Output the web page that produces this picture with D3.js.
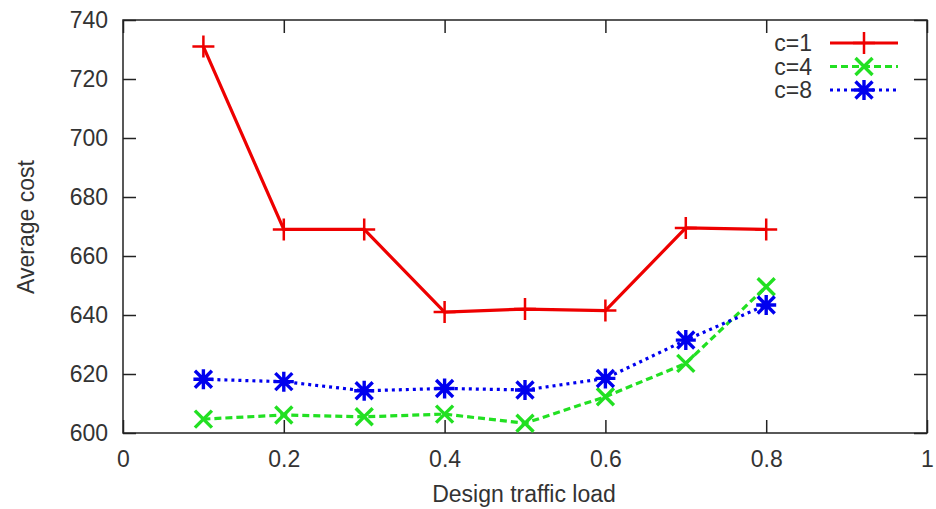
<!DOCTYPE html>
<html>
<head>
<meta charset="utf-8">
<script src="https://cdn.jsdelivr.net/npm/d3@7"></script>
<style>
    body { margin: 0; background: #fff; }
    svg text { font-family: "Liberation Sans", Arial, sans-serif; fill: #333; }
</style>
</head>
<body>
<main id="root"></main>
<script>
"use strict";

// design traffic load values
var loads = [ 0.1, 0.2, 0.3, 0.4, 0.5, 0.6, 0.7, 0.8 ];

var cost_c1 = [ 731, 669, 669, 641, 642, 641.5, 669.5, 669 ];
var cost_c4 = [ 604.7, 606.1, 605.5, 606.4, 603.3, 612.3, 623.6, 649.6 ];
var cost_c8 = [ 618.2, 617.4, 614.3, 615.1, 614.6, 618.5, 631.5, 643.4 ];

var series_names = [ 'c=1', 'c=4', 'c=8' ];

var x_ticks = [ 0, 0.2, 0.4, 0.6, 0.8, 1 ];
var y_ticks = [ 600, 620, 640, 660, 680, 700, 720, 740 ];

var width = 936;
var height = 509;
var margin = { top: 20, right: 9, bottom: 76, left: 123 };
var inner_w = width - margin.left - margin.right;
var inner_h = height - margin.top - margin.bottom;

var series = [
    { name: series_names[0], values: cost_c1, color: '#ee0000', dash: null, marker: 'plus' },
    { name: series_names[1], values: cost_c4, color: '#22e022', dash: '7,4', marker: 'cross' },
    { name: series_names[2], values: cost_c8, color: '#0000ee', dash: '3,4', marker: 'star' }
];

var svg = d3.select('main#root').append('svg')
    .attr('width', width)
    .attr('height', height);

var g = svg.append('g').attr('transform', 'translate(' + margin.left + ',' + margin.top + ')');

var x = d3.scaleLinear().domain([ 0, 1 ]).range([ 0, inner_w ]);
var y = d3.scaleLinear().domain([ 600, 740 ]).range([ inner_h, 0 ]);

var fmt_x = function( d ) { return d === 0 || d === 1 ? String( d ) : d3.format('.1f')( d ); };

function style_axis( sel ) {
    sel.select('.domain').remove();
    sel.selectAll('line').attr('stroke', '#222').attr('stroke-width', 1.5);
    sel.selectAll('text').attr('font-size', 23).attr('fill', '#333');
}

g.append('g')
    .attr('transform', 'translate(0,' + inner_h + ')')
    .call( d3.axisBottom( x ).tickValues( x_ticks ).tickFormat( fmt_x ).tickSizeInner( -13 ).tickSizeOuter( 0 ).tickPadding( 18 ) )
    .call( style_axis );

g.append('g')
    .call( d3.axisTop( x ).tickValues( x_ticks ).tickFormat('').tickSizeInner( -13 ).tickSizeOuter( 0 ) )
    .call( style_axis );

g.append('g')
    .call( d3.axisLeft( y ).tickValues( y_ticks ).tickSizeInner( -13 ).tickSizeOuter( 0 ).tickPadding( 15 ) )
    .call( style_axis );

g.append('g')
    .attr('transform', 'translate(' + inner_w + ',0)')
    .call( d3.axisRight( y ).tickValues( y_ticks ).tickFormat('').tickSizeInner( -13 ).tickSizeOuter( 0 ) )
    .call( style_axis );

g.append('rect')
    .attr('width', inner_w)
    .attr('height', inner_h)
    .attr('fill', 'none')
    .attr('stroke', '#222')
    .attr('stroke-width', 1.5);

// axis titles
svg.append('text')
    .attr('x', margin.left + inner_w / 2 - 1)
    .attr('y', 502)
    .attr('text-anchor', 'middle')
    .attr('font-size', 23)
    .text('Design traffic load');

svg.append('text')
    .attr('transform', 'translate(34,227) rotate(-90)')
    .attr('text-anchor', 'middle')
    .attr('font-size', 23)
    .text('Average cost');

function marker_path( type, r ) {
    var a = r * 0.85;
    if ( type === 'plus' ) {
        return 'M' + ( -r ) + ',0H' + r + 'M0,' + ( -r ) + 'V' + r;
    }
    if ( type === 'cross' ) {
        return 'M' + ( -a ) + ',' + ( -a ) + 'L' + a + ',' + a + 'M' + ( -a ) + ',' + a + 'L' + a + ',' + ( -a );
    }
    return 'M' + ( -r ) + ',0H' + r + 'M0,' + ( -r ) + 'V' + r +
        'M' + ( -a ) + ',' + ( -a ) + 'L' + a + ',' + a + 'M' + ( -a ) + ',' + a + 'L' + a + ',' + ( -a );
}

var line = d3.line()
    .x( function( d, i ) { return x( loads[ i ] ); } )
    .y( function( d ) { return y( d ); } );

var plot = g.append('g').classed('series', true);

series.forEach( function( s ) {
    var sg = plot.append('g');

    sg.append('path')
        .attr('d', line( s.values ))
        .attr('fill', 'none')
        .attr('stroke', s.color)
        .attr('stroke-width', 3.2)
        .attr('stroke-dasharray', s.dash);

    sg.selectAll('.pt')
        .data( s.values )
        .enter().append('path')
        .attr('class', 'pt')
        .attr('transform', function( d, i ) { return 'translate(' + x( loads[ i ] ) + ',' + y( d ) + ')'; })
        .attr('d', marker_path( s.marker, s.marker === 'plus' ? 11 : 10 ))
        .attr('fill', 'none')
        .attr('stroke', s.color)
        .attr('stroke-width', s.marker === 'plus' ? 2.5 : 3.4);
});

// legend
var legend = svg.append('g').classed('legend', true);

series.forEach( function( s, i ) {
    var ly = 43 + i * 23.5;

    legend.append('text')
        .attr('x', 812)
        .attr('y', ly + 8)
        .attr('text-anchor', 'end')
        .attr('font-size', 23)
        .text( s.name );

    legend.append('line')
        .attr('x1', 830)
        .attr('x2', 898)
        .attr('y1', ly)
        .attr('y2', ly)
        .attr('stroke', s.color)
        .attr('stroke-width', 3.2)
        .attr('stroke-dasharray', s.dash);

    legend.append('path')
        .attr('transform', 'translate(864,' + ly + ')')
        .attr('d', marker_path( s.marker, s.marker === 'plus' ? 11 : 10 ))
        .attr('fill', 'none')
        .attr('stroke', s.color)
        .attr('stroke-width', s.marker === 'plus' ? 2.5 : 3.4);
});
</script>
</body>
</html>
